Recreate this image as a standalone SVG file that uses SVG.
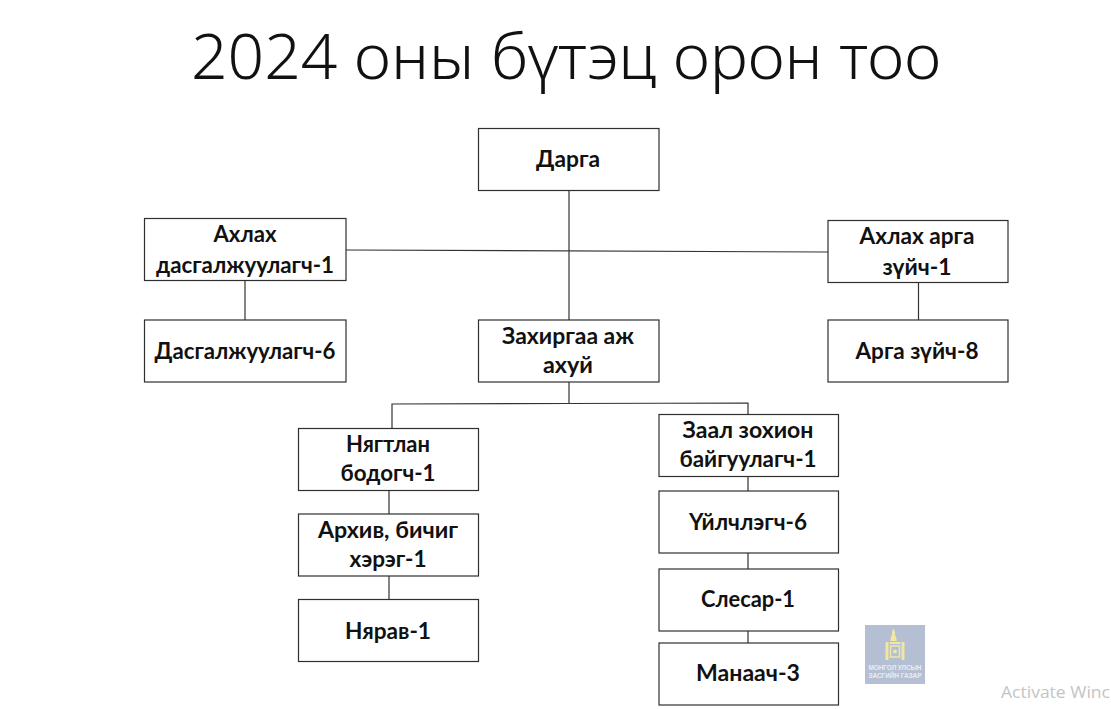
<svg xmlns="http://www.w3.org/2000/svg" width="1111" height="709" viewBox="0 0 1111 709">
<style>
.n rect{fill:#fff;stroke:#2f2f2f;stroke-width:1.2}
.n text{font-family:"Lato","Noto Sans","Liberation Sans",sans-serif;font-weight:700;font-size:23px;fill:#111;text-anchor:middle}
#connectors path{fill:none;stroke:#333;stroke-width:1.2}
</style>
<rect width="1111" height="709" fill="#fff"/>
<text x="566" y="79" font-family="'Noto Sans','Liberation Sans',sans-serif" font-weight="300" font-size="63" fill="#111" text-anchor="middle" textLength="750" lengthAdjust="spacingAndGlyphs">2024 оны бүтэц орон тоо</text>
<g id="connectors">
<path d="M569 190V320"/>
<path d="M346 250L828 252"/>
<path d="M245 280V320"/>
<path d="M918.500 282V320"/>
<path d="M569 382V404"/>
<path d="M392 428V404L569 403.500L748 403V414"/>
<path d="M389 490V514M389 576V599"/>
<path d="M748 476V491M748 553V569M748 631V643"/>
</g>
<g id="n1" class="n"><rect x="478.500" y="128.500" width="180.500" height="62"/><text x="568" y="167" textLength="64" lengthAdjust="spacingAndGlyphs">Дарга</text></g>
<g id="n2" class="n"><rect x="144.500" y="218.500" width="201.500" height="62"/><text x="245" y="242" textLength="63" lengthAdjust="spacingAndGlyphs">Ахлах</text><text x="245" y="273" textLength="178" lengthAdjust="spacingAndGlyphs">дасгалжуулагч-1</text></g>
<g id="n3" class="n"><rect x="828" y="220.500" width="180" height="62"/><text x="917" y="244" textLength="115" lengthAdjust="spacingAndGlyphs">Ахлах арга</text><text x="917" y="275" textLength="69" lengthAdjust="spacingAndGlyphs">зүйч-1</text></g>
<g id="n4" class="n"><rect x="144.500" y="320" width="201.500" height="62"/><text x="245" y="359" textLength="181" lengthAdjust="spacingAndGlyphs">Дасгалжуулагч-6</text></g>
<g id="n5" class="n"><rect x="478.500" y="320" width="180.500" height="62"/><text x="568" y="344" textLength="132" lengthAdjust="spacingAndGlyphs">Захиргаа аж</text><text x="568" y="373" textLength="50" lengthAdjust="spacingAndGlyphs">ахуй</text></g>
<g id="n6" class="n"><rect x="828" y="320" width="180" height="62"/><text x="917" y="359" textLength="123" lengthAdjust="spacingAndGlyphs">Арга зүйч-8</text></g>
<g id="n7" class="n"><rect x="298.500" y="428.500" width="180" height="62"/><text x="388" y="452" textLength="84" lengthAdjust="spacingAndGlyphs">Нягтлан</text><text x="388" y="481" textLength="95" lengthAdjust="spacingAndGlyphs">бодогч-1</text></g>
<g id="n8" class="n"><rect x="298.500" y="514" width="180" height="62"/><text x="388" y="538" textLength="140" lengthAdjust="spacingAndGlyphs">Архив, бичиг</text><text x="388" y="567" textLength="77" lengthAdjust="spacingAndGlyphs">хэрэг-1</text></g>
<g id="n9" class="n"><rect x="298.500" y="599.500" width="180" height="62"/><text x="388" y="639" textLength="86" lengthAdjust="spacingAndGlyphs">Нярав-1</text></g>
<g id="n10" class="n"><rect x="659" y="414.500" width="179.500" height="62"/><text x="748" y="438" textLength="131" lengthAdjust="spacingAndGlyphs">Заал зохион</text><text x="748" y="467" textLength="137" lengthAdjust="spacingAndGlyphs">байгуулагч-1</text></g>
<g id="n11" class="n"><rect x="659" y="491" width="179.500" height="62"/><text x="748" y="530" textLength="118" lengthAdjust="spacingAndGlyphs">Үйлчлэгч-6</text></g>
<g id="n12" class="n"><rect x="659" y="569" width="179.500" height="62"/><text x="748" y="607" textLength="94" lengthAdjust="spacingAndGlyphs">Слесар-1</text></g>
<g id="n13" class="n"><rect x="659" y="643" width="179.500" height="62"/><text x="748" y="681" textLength="104" lengthAdjust="spacingAndGlyphs">Манаач-3</text></g>
<rect x="865" y="625" width="60" height="59" fill="#b4bfd3"/>
<g fill="#f0e6a6"><path d="M893.500 628l1.500 4v3l1.500 3v3h-6v-3l1.500-3v-3z"/><path d="M889.500 642h11v2h-11z"/><path d="M885.500 642h3v18h-3zM901.500 642h3v18h-3z"/><rect x="890.500" y="646" width="9" height="11" fill="none" stroke="#f0e6a6" stroke-width="1.500"/><circle cx="895" cy="651.500" r="2"/></g>
<text x="895" y="670" font-family="'Liberation Sans',sans-serif" font-weight="700" font-size="6.500" fill="#e9edf3" text-anchor="middle" textLength="53">МОНГОЛ УЛСЫН</text>
<text x="895" y="678" font-family="'Liberation Sans',sans-serif" font-weight="700" font-size="6.500" fill="#e9edf3" text-anchor="middle" textLength="53">ЗАСГИЙН ГАЗАР</text>
<text x="1001" y="698" font-family="'Open Sans',sans-serif" font-size="16" fill="#c4c4c4" textLength="109" lengthAdjust="spacingAndGlyphs">Activate Winc</text>
</svg>
